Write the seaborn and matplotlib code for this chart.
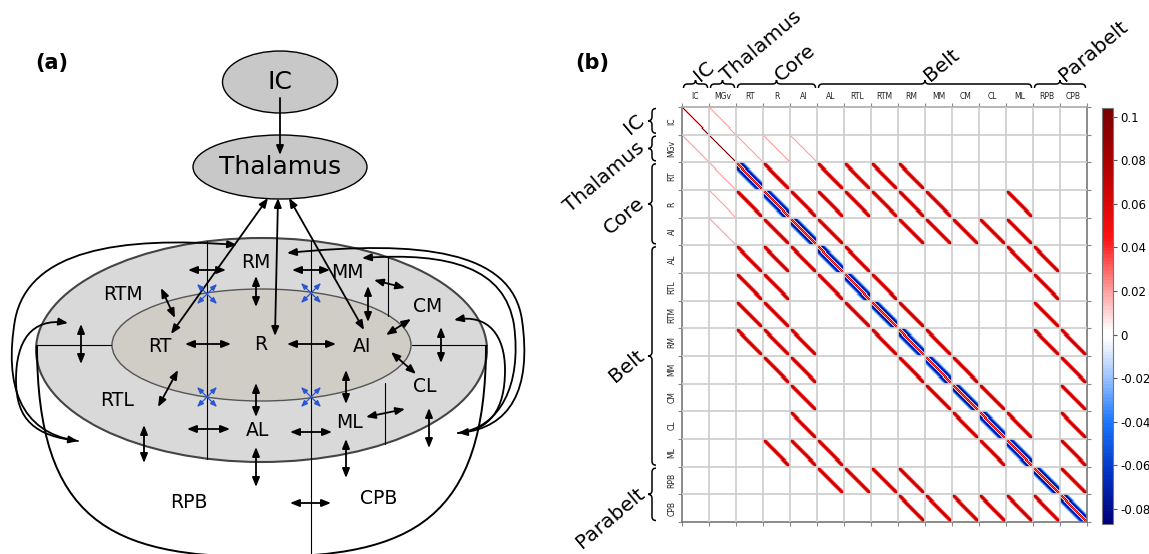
import numpy as np
import matplotlib
matplotlib.use("Agg")
import matplotlib.pyplot as plt
import seaborn as sns
from matplotlib.patches import Ellipse, FancyArrowPatch, PathPatch
from matplotlib.path import Path
from matplotlib.colors import LinearSegmentedColormap

# ============================ data ============================
areas = ["IC", "MGv", "RT", "R", "AI", "AL", "RTL", "RTM", "RM", "MM", "CM", "CL", "ML", "RPB", "CPB"]
group_names = ["IC", "Thalamus", "Core", "Belt", "Parabelt"]
group_sizes = [1, 1, 3, 8, 2]
subcortical_areas = ["IC", "MGv"]

cortical_edges = [
    ("RT", "R"), ("RT", "AL"), ("RT", "RTL"), ("RT", "RTM"), ("RT", "RM"),
    ("R", "AI"), ("R", "AL"), ("R", "RTL"), ("R", "RTM"), ("R", "RM"), ("R", "MM"), ("R", "ML"),
    ("AI", "AL"), ("AI", "RM"), ("AI", "MM"), ("AI", "CM"), ("AI", "CL"), ("AI", "ML"),
    ("AL", "RTL"), ("AL", "ML"), ("AL", "RPB"),
    ("RTL", "RTM"), ("RTL", "RPB"),
    ("RTM", "RM"), ("RTM", "RPB"),
    ("RM", "MM"), ("RM", "RPB"), ("RM", "CPB"),
    ("MM", "CM"), ("MM", "CPB"),
    ("CM", "CL"), ("CM", "CPB"),
    ("CL", "ML"), ("CL", "CPB"),
    ("ML", "CPB"),
    ("RPB", "CPB"),
]
thalamic_edges = [("IC", "MGv"), ("MGv", "RT"), ("MGv", "R"), ("MGv", "AI")]

# weights by distance from the block diagonal (|i-j| = 0, 1, 2, ...)
subcortical_self_w = [0.104, 0.02]
cortical_self_w = [0.035, 0.065, 0.01, -0.05, -0.085, -0.07, -0.045, -0.025, -0.01]
cortical_link_w = [0.08, 0.065, 0.04, 0.015]
thalamic_link_w = [0.02, 0.008]

w_min, w_max = -0.087, 0.104
cbar_ticks = [0.1, 0.08, 0.06, 0.04, 0.02, 0.0, -0.02, -0.04, -0.06, -0.08]
cbar_labels = ["0.1", "0.08", "0.06", "0.04", "0.02", "0", "-0.02", "-0.04", "-0.06", "-0.08"]
cmap_values = [-0.087, -0.065, -0.04, -0.02, -0.002, 0.002, 0.02, 0.045, 0.075, 0.104]
cmap_colors = ["#00007a", "#0030c0", "#1a78ff", "#9cc2ff", "#ffffff", "#ffffff",
               "#ffa0a0", "#ff1010", "#b80000", "#780000"]

# panel (a) schematic labels
region_labels = ["RM", "MM", "RTM", "CM", "RT", "R", "AI", "RTL", "CL", "ML", "AL", "RPB", "CPB"]

# ============================ style ============================
sns.set_theme(style="white")
plt.rcParams["font.family"] = ["DejaVu Sans"]
plt.rcParams["axes.unicode_minus"] = False
for key in ["text.color", "axes.labelcolor", "xtick.color", "ytick.color"]:
    plt.rcParams[key] = "black"

# ============================ matrix ============================
N = 27
n = len(areas)
pos = {a: i for i, a in enumerate(areas)}
offset = np.abs(np.subtract.outer(np.arange(N), np.arange(N)))


def band(profile):
    K = np.zeros((N, N))
    for d, v in enumerate(profile):
        K[offset == d] = v
    return K


Wm = np.zeros((n * N, n * N))


def put(a, b, K):
    i, j = pos[a], pos[b]
    Wm[i * N:(i + 1) * N, j * N:(j + 1) * N] = K


for a in areas:
    put(a, a, band(subcortical_self_w if a in subcortical_areas else cortical_self_w))
for a, b in cortical_edges:
    put(a, b, band(cortical_link_w))
    put(b, a, band(cortical_link_w))
for a, b in thalamic_edges:
    put(a, b, band(thalamic_link_w))
    put(b, a, band(thalamic_link_w))

cpos = [(v - w_min) / (w_max - w_min) for v in cmap_values]
cmap = LinearSegmentedColormap.from_list("bwr_custom", list(zip(cpos, cmap_colors)), N=128)

# ============================ figure ============================
WP, HP = 1149, 554
fig = plt.figure(figsize=(WP / 100, HP / 100), dpi=100)
fig.patch.set_facecolor("white")


def fax(x0, y0, x1, y1):
    return [x0 / WP, 1 - y1 / HP, (x1 - x0) / WP, (y1 - y0) / HP]


MX0, MY0, MX1, MY1 = 682, 107, 1087, 522

ov = fig.add_axes([0, 0, 1, 1], zorder=0)
ov.set_xlim(0, WP)
ov.set_ylim(HP, 0)
ov.axis("off")

axh = fig.add_axes(fax(MX0, MY0, MX1, MY1), zorder=2)
cax = fig.add_axes(fax(1102, 108, 1113, 524), zorder=2)

sns.heatmap(Wm, ax=axh, cmap=cmap, vmin=w_min, vmax=w_max, cbar_ax=cax,
            xticklabels=False, yticklabels=False, rasterized=True)

for k in range(1, n):
    axh.axvline(k * N, color="#cccccc", lw=1.2, zorder=3)
    axh.axhline(k * N, color="#cccccc", lw=1.2, zorder=3)

for name, s in axh.spines.items():
    s.set_visible(True)
    s.set_linewidth(1.2)
    s.set_color("#aaaaaa" if name == "top" else "#777777")

centers = (np.arange(n) + 0.5) * N
bounds = np.arange(n + 1) * N
axh.set_xticks(centers)
axh.set_xticklabels(areas, fontsize=5.5)
axh.set_yticks(centers)
axh.set_yticklabels(areas, fontsize=5.5, rotation=90, va="center")
axh.set_xticks(bounds, minor=True)
axh.set_yticks(bounds, minor=True)
axh.tick_params(axis="x", which="major", length=0, top=True, bottom=False,
                labeltop=True, labelbottom=False, pad=4, labelcolor="#222222")
axh.tick_params(axis="y", which="major", length=0, left=True, right=False,
                labelleft=True, labelright=False, pad=4, labelcolor="#222222")
axh.tick_params(which="minor", length=3, width=0.8, color="#888888", direction="out",
                top=True, bottom=True, left=True, right=True)

cb = axh.collections[0].colorbar
cb.set_ticks(cbar_ticks)
cb.set_ticklabels(cbar_labels)
cax.tick_params(labelsize=8.5, length=3, width=0.8, color="#555555", pad=2, right=True)
cb.outline.set_edgecolor("#777777")
cb.outline.set_linewidth(0.8)

# ---------------- braces and group labels for panel (b) ----------------
M, C3, L = Path.MOVETO, Path.CURVE3, Path.LINETO
brace_codes = [M, C3, C3, L, C3, C3, C3, C3, L, C3, C3]


def top_brace(x0, x1, y, q=4):
    xm = (x0 + x1) / 2
    v = [(x0, y + q), (x0, y), (x0 + q, y), (xm - q, y), (xm, y), (xm, y - q),
         (xm, y), (xm + q, y), (x1 - q, y), (x1, y), (x1, y + q)]
    ov.add_patch(PathPatch(Path(v, brace_codes), fill=False, lw=1.1, ec="black"))


def left_brace(y0, y1, x, q=4):
    ym = (y0 + y1) / 2
    v = [(x + q, y0), (x, y0), (x, y0 + q), (x, ym - q), (x, ym), (x - q, ym),
         (x, ym), (x, ym + q), (x, y1 - q), (x, y1), (x + q, y1)]
    ov.add_patch(PathPatch(Path(v, brace_codes), fill=False, lw=1.1, ec="black"))


cw = (MX1 - MX0) / n
rh = (MY1 - MY0) / n
start = 0
for gname, gsize in zip(group_names, group_sizes):
    x0 = MX0 + start * cw + 1.5
    x1 = MX0 + (start + gsize) * cw - 1.5
    top_brace(x0, x1, 84)
    ov.text((x0 + x1) / 2 + 1, 78, gname, rotation=40, rotation_mode="anchor",
            ha="left", va="center", fontsize=14.5)
    y0 = MY0 + start * rh + 1.5
    y1 = MY0 + (start + gsize) * rh - 1.5
    left_brace(y0, y1, 652)
    ov.text(642, (y0 + y1) / 2 - 3, gname, rotation=40, rotation_mode="anchor",
            ha="right", va="center", fontsize=14.5)
    start += gsize

ov.text(52, 63, "(a)", fontsize=15, fontweight="bold", ha="center", va="center")
ov.text(592, 63, "(b)", fontsize=15, fontweight="bold", ha="center", va="center")

# ============================ panel (a) schematic ============================
ov.add_patch(Ellipse((280, 82), 115, 62, fc="#c8c8c8", ec="black", lw=1, zorder=1))
ov.add_patch(Ellipse((280, 167), 174, 64, fc="#c8c8c8", ec="black", lw=1, zorder=1))
ov.add_patch(Ellipse((261.5, 350), 451, 224, fc="#d9d9d9", ec="#444444", lw=1.5, zorder=1))
ov.add_patch(Ellipse((261.5, 345), 299, 112, fc="#d0cdc7", ec="#555555", lw=1, zorder=1.1))

ov.text(280, 82, "IC", fontsize=18, ha="center", va="center", zorder=5)
ov.text(280, 167, "Thalamus", fontsize=18, ha="center", va="center", zorder=5)

# division lines
for xs, ys in [((36, 111), (345, 345)), ((412, 487), (345, 345)),
               ((207, 207), (241, 459)), ((311, 311), (241, 560)),
               ((388, 388), (257, 316)), ((385, 385), (383, 444))]:
    ov.plot(xs, ys, color="black", lw=0.8, zorder=2)

# parabelt outline
ub = [(37, 345), (37, 520), (110, 557), (261, 557), (412, 557), (486, 520), (486, 345)]
ov.add_patch(PathPatch(Path(ub, [Path.MOVETO] + [Path.CURVE4] * 6), fill=False,
                       lw=1.4, ec="black", zorder=2))

region_xy = [(256, 262), (347, 272), (123, 295), (428, 306), (160, 346), (261, 344),
             (362, 346), (117, 401), (425, 387), (350, 423), (258, 431), (189, 502), (379, 499)]
for lab, (x, y) in zip(region_labels, region_xy):
    ov.text(x, y, lab, fontsize=13.5, ha="center", va="center", zorder=5)

AST = "<|-|>,head_length=0.55,head_width=0.22"
AST1 = "<|-,head_length=0.55,head_width=0.22"
AST2 = "-|>,head_length=0.55,head_width=0.22"


def arrow(p, q, style=AST, color="black", lw=1.3, ms=10):
    ov.add_patch(FancyArrowPatch(p, q, arrowstyle=style, mutation_scale=ms, lw=lw,
                                 color=color, shrinkA=0, shrinkB=0, zorder=4))


double_arrows = [
    ((188, 270), (226, 270)), ((292, 270), (330, 270)), ((256, 276), (256, 307)),
    ((368, 286), (368, 322)), ((374, 280), (405, 288)), ((161, 288), (175, 318)),
    ((81, 324), (81, 364)), ((185, 344), (231, 344)), ((287, 344), (336, 344)),
    ((386, 335), (411, 319)), ((391, 352), (416, 374)), ((441, 327), (441, 363)),
    ((178, 370), (158, 407)), ((256, 383), (256, 417)), ((346, 370), (346, 404)),
    ((366, 417), (405, 409)), ((187, 429), (230, 429)), ((290, 432), (332, 432)),
    ((144, 425), (144, 463)), ((256, 447), (256, 487)), ((346, 439), (346, 478)),
    ((429, 408), (429, 448)), ((290, 503), (331, 503)),
]
for p, q in double_arrows:
    arrow(p, q)

# thalamus <-> core
for p, q in [((268, 198), (171, 334)), ((278, 198), (275, 336)), ((289, 198), (364, 330))]:
    arrow(p, q)
arrow((280, 98), (280, 155), style=AST2)

# blue diagonal crosses
for cx, cy in [(207, 294), (311, 293), (207, 397), (311, 397)]:
    arrow((cx - 10, cy - 10), (cx + 10, cy + 10), color="#2a56d0", lw=0.9, ms=7)
    arrow((cx - 10, cy + 10), (cx + 10, cy - 10), color="#2a56d0", lw=0.9, ms=7)

# long curved connections (parabelt)
C4 = Path.CURVE4
curves = [
    ([(237, 245), (120, 236), (28, 250), (15, 320), (4, 385), (20, 432), (78, 441)], AST),
    ([(68, 323), (32, 318), (16, 340), (16, 380), (16, 420), (35, 436), (78, 441)], AST1),
    ([(287, 253), (420, 240), (512, 250), (522, 320), (532, 390), (510, 428), (458, 433)], AST),
    ([(362, 258), (450, 252), (505, 268), (514, 325), (522, 385), (500, 428), (458, 433)], AST1),
    ([(454, 320), (488, 314), (505, 335), (505, 370), (505, 410), (490, 430), (458, 433)], AST1),
]
for verts, st in curves:
    ov.add_patch(FancyArrowPatch(path=Path(verts, [Path.MOVETO] + [C4] * (len(verts) - 1)),
                                 arrowstyle=st, mutation_scale=10, lw=1.3, color="black", zorder=4))

fig.savefig("out.png", dpi=100, facecolor="white")
